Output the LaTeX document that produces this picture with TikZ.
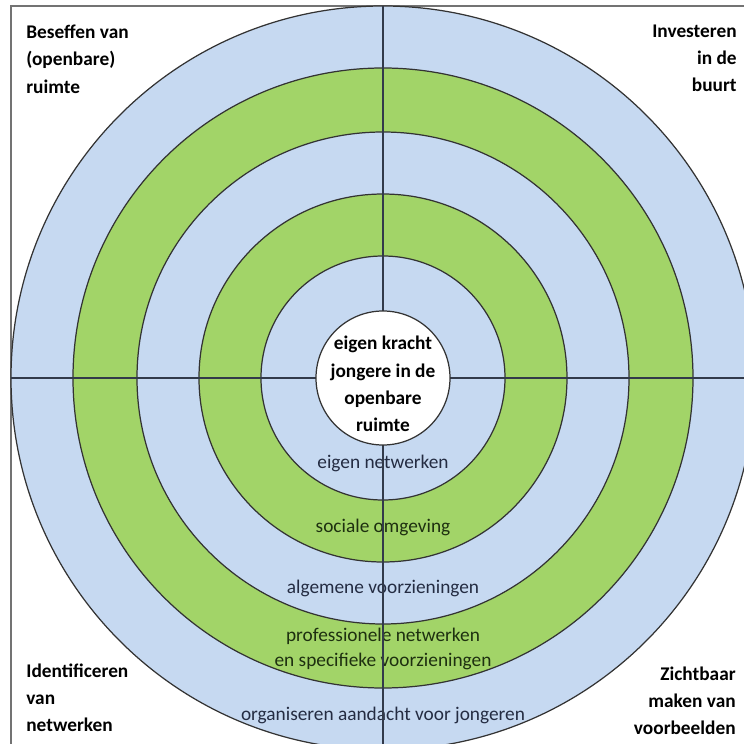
\documentclass[tikz,border=0pt]{standalone}
\usepackage{fontspec}
\setmainfont{Carlito}
\definecolor{ringblue}{RGB}{198,217,241}
\definecolor{ringgreen}{RGB}{162,212,104}
\definecolor{bluetext}{RGB}{36,44,66}
\definecolor{greentext}{RGB}{30,48,16}
\definecolor{crossline}{RGB}{50,58,74}

\begin{document}
\begin{tikzpicture}[x=0.02cm,y=0.02cm,
  ring/.style={draw=black!80,line width=0.7pt},
  ringlabel/.style={inner sep=0pt,anchor=base,font=\fontsize{11}{14.2}\selectfont},
  corner/.style={inner sep=0pt,font=\fontsize{11}{15.4}\selectfont\bfseries}]
\useasboundingbox (-383,378) rectangle (361,-366);
\clip (-383,378) rectangle (361,-366);
\draw[gray!90!black,line width=1.2pt] (-372,372) rectangle (420,-420);
% rings, from the outside in
\draw[ring,fill=ringblue] (0,0) circle[radius=372];
\draw[ring,fill=ringgreen] (0,0) circle[radius=310];
\draw[ring,fill=ringblue] (0,0) circle[radius=246];
\draw[ring,fill=ringgreen] (0,0) circle[radius=184];
\draw[ring,fill=ringblue] (0,0) circle[radius=122];
% labels of the rings
\node[ringlabel,text=bluetext] (eigen) at (0,-90) {eigen netwerken};
\node[ringlabel,text=greentext] (sociaal) at (0,-154) {sociale omgeving};
\node[ringlabel,text=bluetext] (algemeen) at (0,-215) {algemene voorzieningen};
\node[ringlabel,text=greentext,anchor=north,align=center] (professioneel) at (0,-250)
  {professionele netwerken\\en specifieke voorzieningen};
\node[ringlabel,text=bluetext] (organiseren) at (0,-342) {organiseren aandacht voor jongeren};
% the cross
\coordinate (west) at (-372,0);
\coordinate (east) at (372,0);
\coordinate (north) at (0,372);
\coordinate (south) at (0,-372);
\draw[crossline,line width=1.1pt] (west) -- (east);
\draw[crossline,line width=1.1pt] (north) -- (south);
% core
\draw[ring,fill=white] (0,0) circle[radius=67];
\node[corner,align=center,font=\fontsize{11}{15.6}\selectfont\bfseries] (kracht) at (0,-6)
  {eigen kracht\\jongere in de\\openbare\\ruimte};
% corners
\node[corner,anchor=north west,align=left] (beseffen) at (-357,353)
  {Beseffen van\\(openbare)\\ruimte};
\node[corner,anchor=north east,align=right] (investeren) at (354,353)
  {Investeren\\in de\\buurt};
\node[corner,anchor=south west,align=left] (identificeren) at (-357,-354)
  {Identificeren\\van\\netwerken};
\node[corner,anchor=south east,align=right] (zichtbaar) at (353,-357)
  {Zichtbaar\\maken van\\voorbeelden};
\end{tikzpicture}
\end{document}
